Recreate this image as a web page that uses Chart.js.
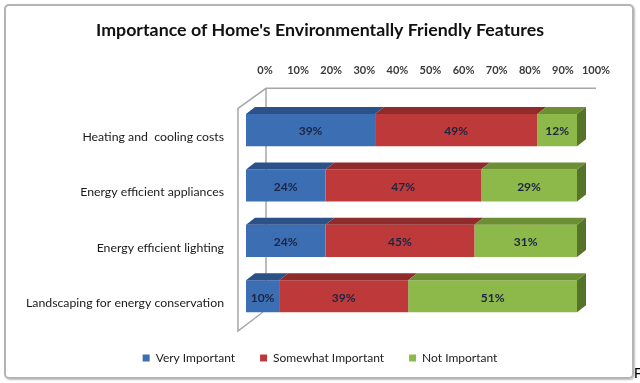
<!DOCTYPE html>
<html>
<head>
<meta charset="utf-8">
<script src="https://cdn.jsdelivr.net/npm/chart.js@4/dist/chart.umd.min.js"></script>
<style>
  html, body { margin: 0; padding: 0; background: #fff; overflow: hidden; }
  #wrap { position: relative; width: 640px; height: 383px; }
  #frame {
    position: absolute; left: 4px; top: 4px; width: 626px; height: 371px;
    border: 2px solid #b4b4b4; border-radius: 5px;
    box-shadow: 1px 1px 2px rgba(0,0,0,0.25);
  }
  #stray { position: absolute; left: 634px; top: 364px; font: 15px "Liberation Sans", sans-serif; color: #000; }
  canvas { position: absolute; left: 0; top: 0; }
</style>
</head>
<body>
<div id="wrap">
  <div id="frame"></div>
  <canvas id="chart" width="640" height="383"></canvas>
  <span id="stray">F</span>
</div>
<script>
// 항목 및 값 (퍼센트)
const categories = [
  "Heating and  cooling costs",
  "Energy efficient appliances",
  "Energy efficient lighting",
  "Landscaping for energy conservation"
];
const seriesNames = ["Very Important", "Somewhat Important", "Not Important"];
const veryImportant = [39, 24, 24, 10];
const somewhatImportant = [49, 47, 45, 39];
const notImportant = [12, 29, 31, 51];
const tickValues = [0, 10, 20, 30, 40, 50, 60, 70, 80, 90, 100];

const frontColors = ['#3C6EB4', '#BE3A3A', '#8DB84A'];
const topColors = ['#2B5189', '#8F2B2B', '#6C8F35'];
const sideColor = '#56732A';
const DX = 9, DY = 7;

// 3D 효과 + 라벨 그리기
const threeD = {
  id: 'threeD',
  beforeDatasetsDraw(chart) {
    const { ctx, chartArea: a, scales } = chart;
    const L = a.left, T = a.top, B = a.bottom, R = a.right;
    ctx.save();
    ctx.strokeStyle = '#a6a6a6';
    ctx.lineWidth = 1.5;
    ctx.beginPath();
    ctx.moveTo(R + 19, T - 14);
    ctx.lineTo(L + 20, T - 14);
    ctx.lineTo(L - 8, T + 6);
    ctx.lineTo(L - 8, B + 7);
    ctx.lineTo(L + 17, B - 12);
    ctx.moveTo(L + 20, T - 14);
    ctx.lineTo(L + 20, B - 12);
    ctx.stroke();
    // 상단 눈금 라벨 (뒷벽 기준)
    ctx.fillStyle = '#3a3a3a';
    ctx.font = 'bold 11px Lato';
    ctx.textAlign = 'center';
    ctx.textBaseline = 'middle';
    tickValues.forEach(v => {
      ctx.fillText(v + '%', scales.x.getPixelForValue(v) + 19, 70);
    });
    ctx.restore();
  },
  afterDatasetsDraw(chart) {
    const { ctx } = chart;
    const n = chart.data.datasets.length;
    ctx.save();
    chart.data.datasets.forEach((ds, di) => {
      const meta = chart.getDatasetMeta(di);
      meta.data.forEach((bar, i) => {
        const left = Math.min(bar.x, bar.base), right = Math.max(bar.x, bar.base);
        const top = bar.y - bar.height / 2, bottom = bar.y + bar.height / 2;
        ctx.fillStyle = topColors[di];
        ctx.beginPath();
        ctx.moveTo(left, top);
        ctx.lineTo(left + DX, top - DY);
        ctx.lineTo(right + DX, top - DY);
        ctx.lineTo(right, top);
        ctx.closePath();
        ctx.fill();
        if (di === n - 1) {
          ctx.fillStyle = sideColor;
          ctx.beginPath();
          ctx.moveTo(right, top);
          ctx.lineTo(right + DX, top - DY);
          ctx.lineTo(right + DX, bottom - DY);
          ctx.lineTo(right, bottom);
          ctx.closePath();
          ctx.fill();
        }
        ctx.fillStyle = '#1c2541';
        ctx.font = 'bold 12px Lato';
        ctx.textAlign = 'center';
        ctx.textBaseline = 'middle';
        ctx.fillText(ds.data[i] + '%', (left + right) / 2, bar.y + 1.5);
      });
    });
    ctx.restore();
  }
};

new Chart(document.getElementById('chart').getContext('2d'), {
  type: 'bar',
  data: {
    labels: categories,
    datasets: [
      { label: seriesNames[0], data: veryImportant, backgroundColor: frontColors[0] },
      { label: seriesNames[1], data: somewhatImportant, backgroundColor: frontColors[1] },
      { label: seriesNames[2], data: notImportant, backgroundColor: frontColors[2] }
    ]
  },
  options: {
    indexAxis: 'y',
    responsive: false,
    animation: false,
    categoryPercentage: 1,
    barPercentage: 0.58,
    layout: { padding: { top: 8, left: 10, right: 10, bottom: 9 } },
    plugins: {
      title: {
        display: true,
        text: "Importance of Home's Environmentally Friendly Features",
        color: '#111',
        font: { family: 'Lato', size: 17.8, weight: 'bold' },
        padding: { top: 12, bottom: 61 }
      },
      legend: {
        position: 'bottom',
        labels: {
          color: '#222',
          font: { family: 'Lato', size: 12 },
          boxWidth: 7,
          boxHeight: 7,
          padding: 25
        }
      },
      tooltip: { enabled: false }
    },
    scales: {
      x: {
        stacked: true,
        min: 0,
        max: 100,
        position: 'bottom',
        grid: { display: false },
        border: { display: false },
        ticks: { display: false },
        afterFit(scale) { scale.height = 3; }
      },
      y: {
        stacked: true,
        grid: { display: false, drawTicks: false },
        border: { display: false },
        ticks: { color: '#1a1a1a', font: { family: 'Lato', size: 12.3 }, padding: 22, labelOffset: 7 },
        afterFit(scale) { scale.width = 236; }
      },
      yRight: {
        type: 'category',
        position: 'right',
        grid: { display: false, drawTicks: false },
        border: { display: false },
        ticks: { display: false },
        afterFit(scale) { scale.width = 53; }
      }
    }
  },
  plugins: [threeD]
});
</script>
</body>
</html>
